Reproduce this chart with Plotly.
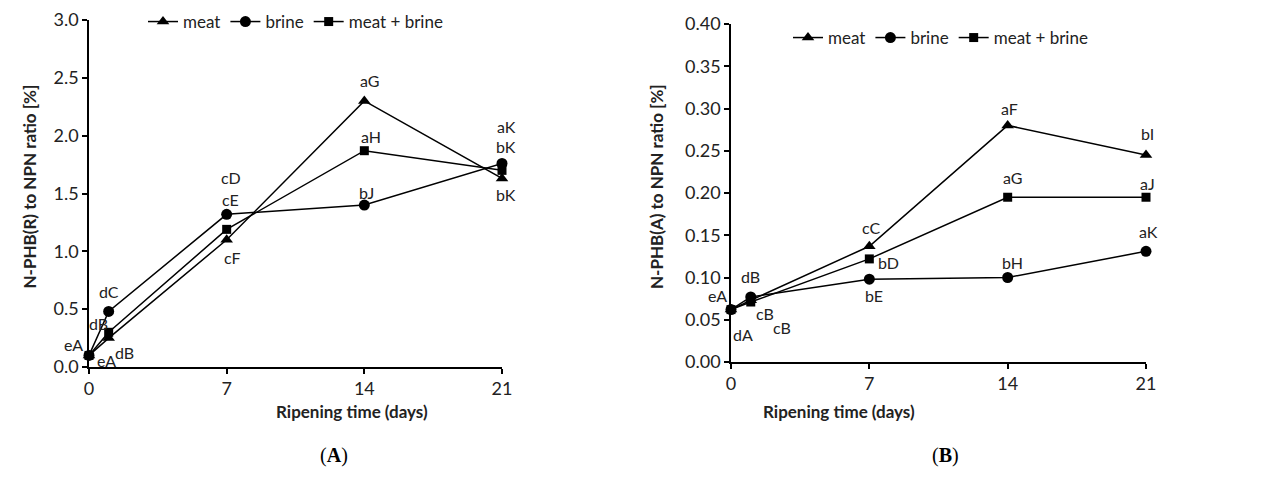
import plotly.graph_objects as go

# ---------------- data ----------------
days = [0, 1, 7, 14, 21]
tick_days = [0, 7, 14, 21]
series_names = ["meat", "brine", "meat + brine"]

# Panel A: N-PHB(R) to NPN ratio [%]
a_meat = [0.10, 0.25, 1.10, 2.30, 1.63]
a_brine = [0.10, 0.48, 1.32, 1.40, 1.76]
a_mix = [0.10, 0.30, 1.19, 1.87, 1.70]

# Panel B: N-PHB(A) to NPN ratio [%]
b_meat = [0.062, 0.073, 0.137, 0.280, 0.245]
b_brine = [0.062, 0.077, 0.098, 0.100, 0.131]
b_mix = [0.062, 0.071, 0.122, 0.195, 0.195]

# significance letters (None = no label)
a_meat_lbl = ["eA", "dB", "cF", "aG", "bK"]
a_brine_lbl = ["eA", "dC", "cD", "bJ", "aK"]
a_mix_lbl = [None, "dB", "cE", "aH", "bK"]
b_meat_lbl = ["eA", "cB", "cC", "aF", "bI"]
b_brine_lbl = ["dA", "dB", "bE", "bH", "aK"]
b_mix_lbl = [None, "cB", "bD", "aG", "aJ"]

# ---------------- layout / style ----------------
W, H = 1276, 484
PAGE_OFF = 8  # default body margin of the html page
FONT = "Lato"
symbols = ["triangle-up", "circle", "square"]
msizes = [11, 11, 9]

# label pixel offsets (xshift, yshift) per point
a_off = [
    [(-16, 11), (16, -14), (6, -18), (5, 20), (4, -16)],
    [(17, -5), (0, 20), (4, 37), (2, 13), (4, 37)],
    [None, (-10, 9), (4, 30), (7, 14), (4, 24)],
]
b_off = [
    [(-14, 14), (14, -13), (2, 19), (2, 17), (1, 21)],
    [(12, -25), (0, 20), (5, -16), (5, 15), (2, 20)],
    [None, (31, -25), (19, -4), (5, 20), (1, 14)],
]

def px_x(p):
    return (p - PAGE_OFF) / W

def px_y(p):
    return 1 - (p - PAGE_OFF) / H

fig = go.Figure()

panels = [
    dict(xa="x", ya="y", data=[a_meat, a_brine, a_mix],
         lbl=[a_meat_lbl, a_brine_lbl, a_mix_lbl], off=a_off, legend="legend"),
    dict(xa="x2", ya="y2", data=[b_meat, b_brine, b_mix],
         lbl=[b_meat_lbl, b_brine_lbl, b_mix_lbl], off=b_off, legend="legend2"),
]

annotations = []
for p in panels:
    for i, (name, vals) in enumerate(zip(series_names, p["data"])):
        fig.add_trace(go.Scatter(
            x=days, y=vals, name=name, mode="lines+markers",
            xaxis=p["xa"], yaxis=p["ya"], legend=p["legend"],
            line=dict(color="black", width=1.5),
            marker=dict(symbol=symbols[i], size=msizes[i], color="black"),
            cliponaxis=False,
        ))
        for j, lab in enumerate(p["lbl"][i]):
            if lab is None:
                continue
            dx, dy = p["off"][i][j]
            annotations.append(dict(
                x=days[j], y=vals[j], xref=p["xa"], yref=p["ya"], text=lab,
                showarrow=False, xshift=dx, yshift=dy,
                font=dict(family=FONT, size=16, color="#222"),
            ))

axis_common = dict(
    showline=True, linecolor="black", linewidth=1.5,
    ticks="outside", ticklen=5, tickwidth=1.5, tickcolor="black",
    showgrid=False, zeroline=False, automargin=False,
    ticklabeloverflow="allow",
    tickfont=dict(family=FONT, size=18, color="#222"),
)

fig.update_layout(
    template="none",
    width=W, height=H,
    margin=dict(l=0, r=0, t=0, b=0, pad=0, autoexpand=False),
    paper_bgcolor="white", plot_bgcolor="white",
    xaxis=dict(domain=[px_x(89), px_x(502)], range=[0, 21], tickvals=tick_days,
               anchor="y", **axis_common),
    yaxis=dict(domain=[px_y(367), px_y(20)], range=[0, 3.0], dtick=0.5,
               tickformat=".1f", anchor="x", **axis_common),
    xaxis2=dict(domain=[px_x(731), px_x(1146)], range=[0, 21], tickvals=tick_days,
                anchor="y2", **axis_common),
    yaxis2=dict(domain=[px_y(362), px_y(24)], range=[0, 0.40], dtick=0.05,
                tickformat=".2f", anchor="x2", **axis_common),
    legend=dict(orientation="h", x=px_x(143), y=px_y(4), xanchor="left", yanchor="top",
                font=dict(family=FONT, size=17, color="#222"), bgcolor="rgba(0,0,0,0)",
                itemwidth=30, tracegroupgap=0),
    legend2=dict(orientation="h", x=px_x(788), y=px_y(20), xanchor="left", yanchor="top",
                 font=dict(family=FONT, size=17, color="#222"), bgcolor="rgba(0,0,0,0)",
                 itemwidth=30, tracegroupgap=0),
    showlegend=True,
)

title_font = dict(family=FONT, size=17, color="#222")
annotations += [
    dict(text="<b>N-PHB(R) to NPN ratio [%]</b>", x=px_x(17), y=px_y(187), xref="paper",
         yref="paper", textangle=-90, showarrow=False, font=title_font),
    dict(text="<b>N-PHB(A) to NPN ratio [%]</b>", x=px_x(657), y=px_y(187), xref="paper",
         yref="paper", textangle=-90, showarrow=False, font=title_font),
    dict(text="<b>Ripening time (days)</b>", x=px_x(274), y=px_y(424), xref="paper",
         yref="paper", showarrow=False, font=title_font),
    dict(text="<b>Ripening time (days)</b>", x=px_x(917), y=px_y(424), xref="paper",
         yref="paper", showarrow=False, font=title_font),
    dict(text="(<b>A</b>)", x=px_x(318), y=px_y(469), xref="paper", yref="paper",
         showarrow=False, font=dict(family="Liberation Serif", size=20, color="black")),
    dict(text="(<b>B</b>)", x=px_x(961), y=px_y(469), xref="paper", yref="paper",
         showarrow=False, font=dict(family="Liberation Serif", size=20, color="black")),
]
fig.update_layout(annotations=annotations)

fig.write_html("out.html")
